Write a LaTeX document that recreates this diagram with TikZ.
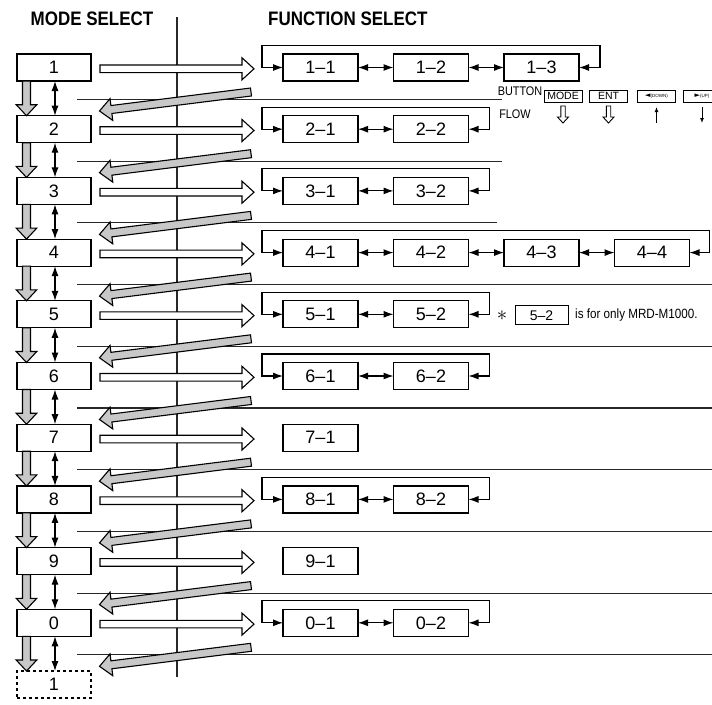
\documentclass[tikz,border=0pt]{standalone}
\usepackage{fontspec}
\setmainfont{Liberation Sans}
\newfontfamily\headfont[FakeStretch=0.87]{Liberation Sans}
\newfontfamily\symfont{DejaVu Sans}
\usetikzlibrary{calc,arrows.meta}
\definecolor{arrgray}{RGB}{200,200,200}
\definecolor{lin}{RGB}{40,40,40}
% block arrow: style, tail, tip, shaft half width, head half width, head length
\newcommand\blockarr[6]{%
  \path (#2) coordinate (ba-A) (#3) coordinate (ba-T);
  \path ($(ba-T)!#6!(ba-A)$) coordinate (ba-H);
  \draw[#1] (ba-T) -- ($(ba-H)!#5!90:(ba-T)$) -- ($(ba-H)!#4!90:(ba-T)$)
    -- ($(ba-A)!#4!90:(ba-T)$) -- ($(ba-A)!#4!-90:(ba-T)$)
    -- ($(ba-H)!#4!-90:(ba-T)$) -- ($(ba-H)!#5!-90:(ba-T)$) -- cycle;
}
\newcommand\frow[3]{%
  \foreach \t [count=\k] in {#3}{
    \node[funcbox] (f#1-\k) at ({320.5+110.5*(\k-1)},#2) {\t};
  }
}
\begin{document}
\begin{tikzpicture}[x=1pt,y=-1pt,
  boxbase/.style={draw, line width=1.2pt, fill=white, inner sep=0pt, outer sep=0pt},
  modebox/.style={boxbase, minimum width=74pt, minimum height=27pt, font=\fontsize{18}{18}\selectfont},
  funcbox/.style={boxbase, minimum width=75pt, minimum height=27pt, font=\fontsize{18}{18}\selectfont},
  btnbox/.style={boxbase, minimum width=38pt, minimum height=12pt, line width=0.9pt, font=\fontsize{10.5}{10}\selectfont},
  dbl/.style={line width=1.1pt, {Latex[length=10pt,width=7pt]}-{Latex[length=10pt,width=7pt]}},
  loopar/.style={line width=1.1pt, {Latex[length=10pt,width=7pt]}-{Latex[length=10pt,width=7pt]}},
  hollow/.style={draw, fill=white, line width=1.1pt, line join=miter},
  grayarr/.style={draw, fill=arrgray, line width=1.1pt, line join=miter},
  sep/.style={draw=lin, line width=1.1pt},
  head/.style={font=\headfont\bfseries\fontsize{19.5}{20}\selectfont}
]
\useasboundingbox (0,0) rectangle (712,704);
\clip (0,0) rectangle (712,704);

% headings
\node[head] (hmode) at (92,19) {MODE SELECT};
\node[head, anchor=west, inner sep=0pt] (hfunc) at (268,19) {FUNCTION SELECT};

% vertical divider
\draw[sep] (177,17) -- (177,677);

% separator lines
\foreach \xe [count=\n] in {502,502,497,712,712,712,712,712,712,712}{
  \pgfmathsetmacro\yl{67.5+61.7*(\n-1)+32}
  \draw[sep] (77,\yl) -- (\xe,\yl);
}

% mode boxes
\foreach \lab [count=\n] in {1,2,3,4,5,6,7,8,9,0}{
  \pgfmathsetmacro\yc{67.5+61.7*(\n-1)}
  \node[modebox] (m\n) at (54,\yc) {\lab};
}
\node[modebox, dashed] (m11) at (54,684.5) {1};

% arrows between mode boxes and to function rows
\foreach \n in {1,...,10}{
  \pgfmathtruncatemacro\nn{\n+1}
  \pgfmathsetmacro\yc{67.5+61.7*(\n-1)}
  \blockarr{grayarr}{$(m\n.south west)+(9.5,0)$}{$(m\nn.north west)+(9.5,0)$}{4pt}{10.3pt}{11pt}
  \draw[dbl] ([xshift=1pt]m\n.south) -- ([xshift=1pt]m\nn.north);
  \blockarr{hollow}{$(m\n.east)+(9,1.3)$}{$(m\n.east)+(163,1.3)$}{3.8pt}{11pt}{12pt}
  \blockarr{grayarr}{251,\yc+24.5}{99.5,\yc+43.5}{4pt}{11pt}{12pt}
}

% function rows
\frow{1}{67.5}{1–1,1–2,1–3}
\draw[dbl] (f1-1) -- (f1-2); \draw[dbl] (f1-2) -- (f1-3);
\draw[loopar] (f1-1.west) -- ++(-21,0) -- ++(0,-22) -| ($(f1-3.east)+(21,0)$) -- (f1-3.east);

\frow{2}{129.2}{2–1,2–2}
\draw[dbl] (f2-1) -- (f2-2);
\draw[loopar] (f2-1.west) -- ++(-21,0) -- ++(0,-22) -| ($(f2-2.east)+(21,0)$) -- (f2-2.east);

\frow{3}{190.9}{3–1,3–2}
\draw[dbl] (f3-1) -- (f3-2);
\draw[loopar] (f3-1.west) -- ++(-21,0) -- ++(0,-22) -| ($(f3-2.east)+(21,0)$) -- (f3-2.east);

\frow{4}{252.6}{4–1,4–2,4–3,4–4}
\draw[dbl] (f4-1) -- (f4-2); \draw[dbl] (f4-2) -- (f4-3); \draw[dbl] (f4-3) -- (f4-4);
\draw[loopar] (f4-1.west) -- ++(-21,0) -- ++(0,-22) -| ($(f4-4.east)+(20,0)$) -- (f4-4.east);

\frow{5}{314.3}{5–1,5–2}
\draw[dbl] (f5-1) -- (f5-2);
\draw[loopar] (f5-1.west) -- ++(-21,0) -- ++(0,-22) -| ($(f5-2.east)+(21,0)$) -- (f5-2.east);
\node[font=\fontsize{22}{22}\selectfont, inner sep=0pt] (ast) at (502,315.5) {$\ast$};
\node[boxbase, line width=0.9pt, minimum width=53pt, minimum height=19pt, font=\fontsize{14}{14}\selectfont] (n52) at (541.5,315.3) {5–2};
\node[anchor=west, inner sep=0pt, font=\headfont\fontsize{13.4}{14}\selectfont] (note) at (575,315.3) {is for only MRD-M1000.};

\frow{6}{376}{6–1,6–2}
\draw[dbl] (f6-1) -- (f6-2);
\draw[loopar] (f6-1.west) -- ++(-21,0) -- ++(0,-22) -| ($(f6-2.east)+(21,0)$) -- (f6-2.east);

\frow{7}{437.7}{7–1}

\frow{8}{499.4}{8–1,8–2}
\draw[dbl] (f8-1) -- (f8-2);
\draw[loopar] (f8-1.west) -- ++(-21,0) -- ++(0,-22) -| ($(f8-2.east)+(21,0)$) -- (f8-2.east);

\frow{9}{561.1}{9–1}

\frow{10}{622.8}{0–1,0–2}
\draw[dbl] (f10-1) -- (f10-2);
\draw[loopar] (f10-1.west) -- ++(-21,0) -- ++(0,-22) -| ($(f10-2.east)+(21,0)$) -- (f10-2.east);

% button legend
\node[font=\headfont\fontsize{12.5}{13}\selectfont] (btn) at (520,91) {BUTTON};
\node[font=\headfont\fontsize{12.5}{13}\selectfont] (flow) at (515,114) {FLOW};
\node[btnbox] (bmode) at (563,96) {MODE};
\node[btnbox] (bent) at (608.5,96) {ENT};
\node[btnbox] (bdown) at (656.5,96) {{\symfont\fontsize{7}{7}\selectfont ◄}{\fontsize{4.5}{5}\selectfont(DOWN)}};
\node[btnbox] (bup) at (702,96) {{\symfont\fontsize{7}{7}\selectfont ►}{\fontsize{4.5}{5}\selectfont(UP)}};
\blockarr{hollow, line width=0.9pt}{$(bmode.south)+(0,4)$}{$(bmode.south)+(0,21)$}{2.2pt}{5.5pt}{6pt}
\blockarr{hollow, line width=0.9pt}{$(bent.south)+(0,4)$}{$(bent.south)+(0,21)$}{2.2pt}{5.5pt}{6pt}
\draw[line width=1pt, -{Latex[length=5pt,width=4pt]}] ($(bdown.south)+(0,21)$) coordinate (bd1) -- ($(bdown.south)+(0,5)$);
\draw[line width=1pt, -{Latex[length=5pt,width=4pt]}] ($(bup.south)+(0,5)$) coordinate (bu1) -- ($(bup.south)+(0,21)$);
\end{tikzpicture}
\end{document}
